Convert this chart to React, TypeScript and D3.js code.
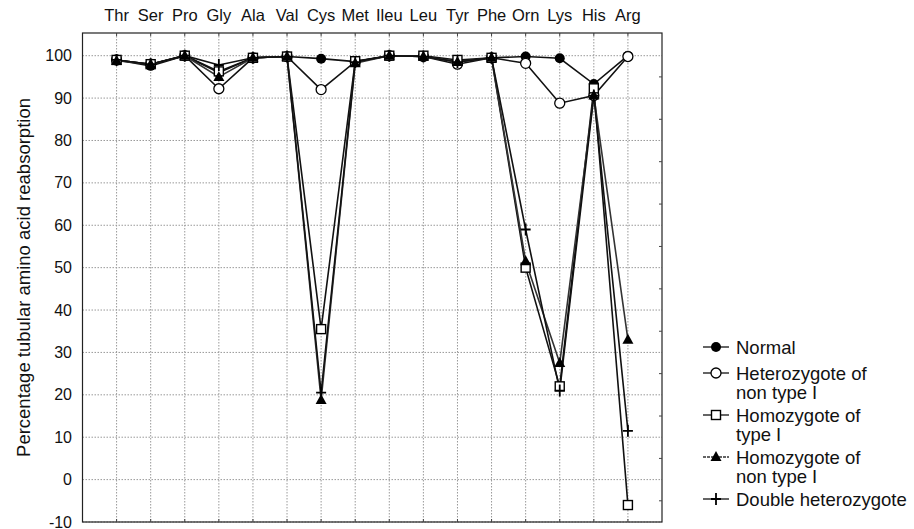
import React from 'react'
import { scaleLinear, scalePoint, line, range } from 'd3'

const categories = ['Thr', 'Ser', 'Pro', 'Gly', 'Ala', 'Val', 'Cys', 'Met', 'Ileu', 'Leu', 'Tyr', 'Phe', 'Orn', 'Lys', 'His', 'Arg']
const normal = [99, 97.6, 100, 96, 99.5, 99.8, 99.3, 98.6, 100, 99.8, 98.6, 99.5, 99.8, 99.4, 93.3, 100]
const heteroNonI = [99, 98, 100, 92.2, 99.5, 99.8, 92, 98.6, 100, 99.8, 98, 99.5, 98.2, 88.8, 90.6, 99.8]
const homoTypeI = [99, 98, 100, 96.3, 99.5, 99.8, 35.5, 98.7, 100, 100, 99, 99.5, 50, 22, 92.3, -6]
const homoNonI = [98.8, 98, 100, 95, 99.5, 99.8, 18.8, 98.2, 100, 99.8, 98.5, 99.5, 51.5, 27.5, 90.6, 33]
const doubleHet = [99, 98, 100, 97.8, 99.5, 99.8, 20.5, 98.5, 100, 99.8, 98.5, 99.5, 59, 21, 90.6, 11.5]
const yTicks = [100, 90, 80, 70, 60, 50, 40, 30, 20, 10, 0, -10]

const series = [
  { name: ['Normal'], values: normal, marker: 'dot', stroke: '#111' },
  { name: ['Heterozygote of', 'non type I'], values: heteroNonI, marker: 'circle', stroke: '#111' },
  { name: ['Homozygote of', 'type I'], values: homoTypeI, marker: 'square', stroke: '#111' },
  { name: ['Homozygote of', 'non type I'], values: homoNonI, marker: 'triangle', stroke: '#333' },
  { name: ['Double heterozygote'], values: doubleHet, marker: 'plus', stroke: '#111' },
]

const left = 82.5, right = 662, top = 33, bottom = 522
const font = '"Liberation Sans", Arial, sans-serif'

const Marker = ({ type, x, y }: { type: string; x: number; y: number }) => {
  if (type === 'dot') return <circle cx={x} cy={y} r={5} fill='#000' />
  if (type === 'circle') return <circle cx={x} cy={y} r={5} fill='#fff' stroke='#000' strokeWidth={1.3} />
  if (type === 'square') return <rect x={x - 4.5} y={y - 4.5} width={9} height={9} fill='#fff' stroke='#000' strokeWidth={1.4} />
  if (type === 'triangle') return <path d={`M${x},${y - 6}L${x + 5.5},${y + 4}L${x - 5.5},${y + 4}Z`} fill='#000' />
  return <path d={`M${x - 5},${y}H${x + 5}M${x},${y - 6}V${y + 6}`} stroke='#000' strokeWidth={1.8} />
}

export default function App() {
  const x = scalePoint<string>().domain(categories).range([left, right]).padding(1)
  const y = scaleLinear().domain([-10, 105]).range([bottom, top + 1.5])
  const path = line<number>().x((_, i) => x(categories[i])!).y((d) => y(d))
  const minor = range(-5, 105, 10)
  const legendY = [347, 373, 415, 457, 499]

  return (
    <svg width={914} height={529} style={{ position: 'absolute', left: 0, top: 0, background: '#fff' }} fontFamily={font}>
      {/* grid */}
      <g stroke='#999' strokeWidth={1} strokeDasharray='1.5,1.5'>
        {yTicks.map((t) => (
          <line key={t} x1={left} x2={right} y1={y(t)} y2={y(t)} />
        ))}
        {categories.map((c) => (
          <line key={c} x1={x(c)} x2={x(c)} y1={top} y2={bottom} />
        ))}
      </g>
      {/* frame */}
      <rect x={left} y={top} width={right - left} height={bottom - top} fill='none' stroke='#222' strokeWidth={1.2} />
      <g stroke='#444' strokeWidth={1}>
        {minor.map((t) => (
          <line key={t} x1={right - 3} x2={right} y1={y(t)} y2={y(t)} />
        ))}
        {categories.map((c) => (
          <line key={c} x1={x(c)} x2={x(c)} y1={top} y2={top + 3} />
        ))}
        {categories.map((c) => (
          <line key={'b' + c} x1={x(c)} x2={x(c)} y1={bottom} y2={bottom - 3} />
        ))}
      </g>
      {/* axes labels */}
      {categories.map((c) => (
        <text key={c} x={x(c)} y={21} textAnchor='middle' fontSize={16.5} fill='#111'>
          {c}
        </text>
      ))}
      {yTicks.map((t) => (
        <text key={t} x={72} y={y(t) + 5.5} textAnchor='end' fontSize={16} fill='#111'>
          {t}
        </text>
      ))}
      <text transform={`translate(30, ${(top + bottom) / 2}) rotate(-90)`} textAnchor='middle' fontSize={18.5} fill='#111'>
        Percentage tubular amino acid reabsorption
      </text>
      {/* series */}
      {series.map((s) => (
        <path key={s.name.join()} d={path(s.values)!} fill='none' stroke={s.stroke} strokeWidth={1.6} />
      ))}
      {series.map((s) =>
        s.values.map((v, i) => <Marker key={s.name.join() + i} type={s.marker} x={x(categories[i])!} y={y(v)} />)
      )}
      {/* legend */}
      {series.map((s, k) => (
        <g key={'lg' + k}>
          <line x1={703} x2={729} y1={legendY[k]} y2={legendY[k]} stroke={s.stroke} strokeWidth={1.3} strokeDasharray={s.marker === 'triangle' ? '3,1' : undefined} />
          <Marker type={s.marker} x={716} y={legendY[k]} />
          {s.name.map((n, j) => (
            <text key={n} x={736} y={legendY[k] + 6.5 + j * 19} fontSize={18.5} fill='#111'>
              {n}
            </text>
          ))}
        </g>
      ))}
    </svg>
  )
}
